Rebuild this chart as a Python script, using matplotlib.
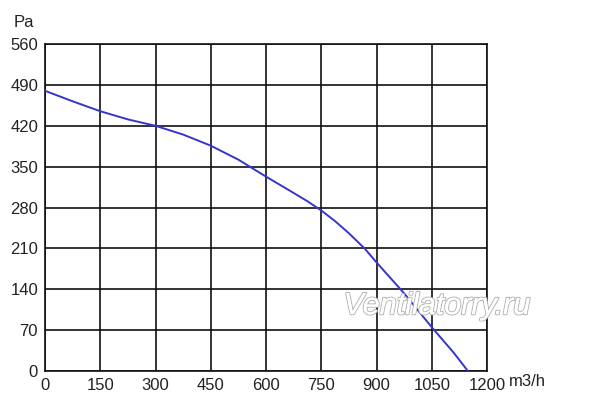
"""Fan pressure curve: static pressure (Pa) vs air flow (m3/h)."""
import matplotlib
matplotlib.use("Agg")
import matplotlib.pyplot as plt
import matplotlib.patheffects as pe

plt.rcParams["font.family"] = ["Liberation Sans", "DejaVu Sans"]

# values
FLOW = [0, 75, 150, 225, 300, 375, 450, 525, 600, 675, 712, 750, 787, 825,
        869, 900, 975, 1050, 1110, 1148]
PRESSURE = [480, 462, 445, 431, 420, 405, 386, 362, 333, 305, 291, 275, 257, 236,
            209, 186, 133, 75, 31, 0]
X_TICKS = [0, 150, 300, 450, 600, 750, 900, 1050, 1200]
Y_TICKS = [0, 70, 140, 210, 280, 350, 420, 490, 560]


def main():
    fig = plt.figure(figsize=(6.0, 4.12), dpi=100)
    ax = fig.add_axes([0.075, 0.0995, 0.7367, 0.7935])
    ax.set_xlim(0, 1200)
    ax.set_ylim(0, 560)
    ax.set_xticks(X_TICKS)
    ax.set_yticks(Y_TICKS)
    ax.grid(True, color="#111111", linewidth=1.2)
    ax.set_axisbelow(True)
    for sp in ax.spines.values():
        sp.set_color("#111111")
        sp.set_linewidth(1.2)
    ax.tick_params(length=0, labelsize=12, labelcolor="#222222", pad=5)

    ax.plot(FLOW, PRESSURE, color="#3535cc", linewidth=1.4, zorder=3)

    fig.text(0.022, 0.945, "Pa", fontsize=12, color="#222222", va="center")
    fig.text(0.848, 0.075, "m3/h", fontsize=12, color="#222222", va="center")

    fig.text(0.728, 0.257, "Ventilatorry.ru", fontsize=22, style="italic",
             color="white", ha="center", va="center", zorder=5,
             path_effects=[pe.withStroke(linewidth=1.6, foreground="#b8b8b8"),
                           pe.Normal()])

    fig.savefig("out.png", dpi=100)


if __name__ == "__main__":
    main()
